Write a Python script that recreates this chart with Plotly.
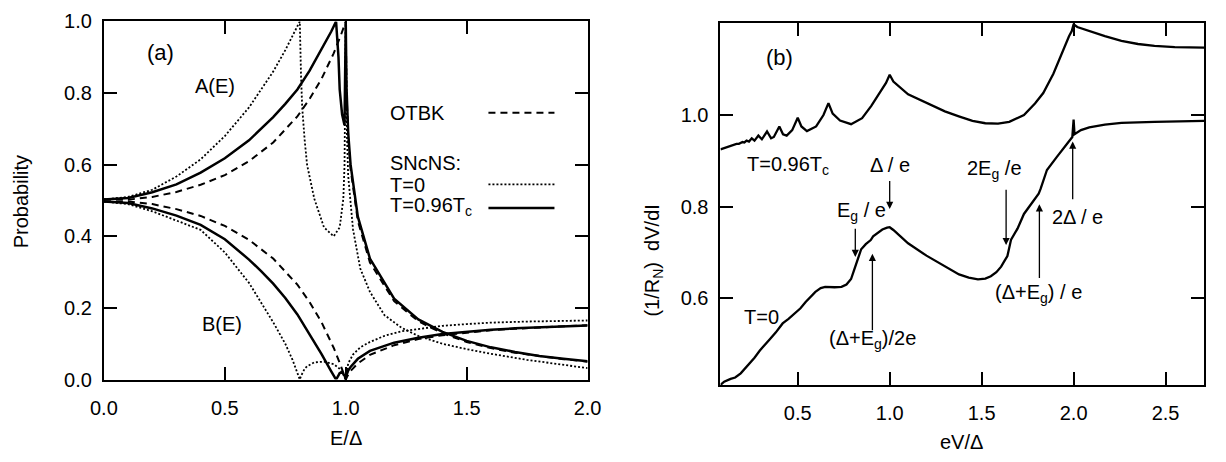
import plotly.graph_objects as go

# ---------------- Panel (a) data ----------------
E_otbk = [0, 0.1, 0.2, 0.3, 0.4, 0.5, 0.6, 0.7, 0.8, 0.85, 0.9, 0.95, 0.98, 1.0,
          1.003, 1.01, 1.02, 1.05, 1.1, 1.2, 1.3, 1.4, 1.5, 1.6, 1.7, 1.8, 1.9, 2.0]
A_otbk = [0.503, 0.5025, 0.510, 0.524, 0.544, 0.571, 0.610, 0.662, 0.735, 0.783, 0.840, 0.911, 0.962, 1.0,
          0.808, 0.682, 0.588, 0.443, 0.327, 0.219, 0.163, 0.129, 0.105, 0.088, 0.075, 0.065, 0.057, 0.050]
B_otbk = [0.497, 0.4975, 0.490, 0.476, 0.457, 0.429, 0.390, 0.338, 0.265, 0.217, 0.160, 0.089, 0.038, 0.0,
          0.005, 0.014, 0.024, 0.045, 0.069, 0.096, 0.113, 0.124, 0.132, 0.138, 0.142, 0.146, 0.149, 0.152]

E_hot = [0, 0.1, 0.2, 0.3, 0.4, 0.5, 0.6, 0.65, 0.7, 0.75, 0.8, 0.85, 0.9, 0.94, 0.96, 0.97, 0.975, 0.985,
         0.995, 1.0, 1.003, 1.01, 1.02, 1.05, 1.1, 1.2, 1.3, 1.4, 1.5, 1.6, 1.7, 1.8, 1.9, 2.0]
A_hot = [0.503, 0.507, 0.523, 0.545, 0.578, 0.618, 0.668, 0.700, 0.733, 0.770, 0.810, 0.862, 0.922, 0.972,
         1.0, 0.90, 0.81, 0.74, 0.71, 1.0, 0.82, 0.69, 0.60, 0.455, 0.338, 0.226, 0.168, 0.133, 0.108,
         0.090, 0.077, 0.066, 0.058, 0.051]
B_hot = [0.497, 0.493, 0.478, 0.458, 0.432, 0.392, 0.335, 0.303, 0.268, 0.228, 0.182, 0.128, 0.071, 0.023,
         0.0, 0.012, 0.018, 0.020, 0.012, 0.0, 0.012, 0.025, 0.035, 0.058, 0.080, 0.103, 0.117, 0.127,
         0.134, 0.139, 0.143, 0.146, 0.149, 0.151]

E_cold = [0, 0.1, 0.2, 0.3, 0.4, 0.5, 0.6, 0.7, 0.75, 0.78, 0.81, 0.815, 0.82, 0.83, 0.84, 0.87, 0.91,
          0.95, 0.975, 0.99, 0.995, 1.0, 1.005, 1.01, 1.03, 1.06, 1.1, 1.16, 1.23, 1.3, 1.4, 1.5, 1.6,
          1.75, 1.9, 2.0]
A_cold = [0.503, 0.51, 0.53, 0.567, 0.615, 0.68, 0.76, 0.86, 0.92, 0.96, 1.0, 0.85, 0.76, 0.67, 0.60,
          0.505, 0.425, 0.40, 0.425, 0.505, 0.60, 1.0, 0.68, 0.57, 0.42, 0.31, 0.245, 0.18, 0.145, 0.122,
          0.100, 0.085, 0.072, 0.055, 0.040, 0.032]
B_cold = [0.497, 0.49, 0.47, 0.444, 0.418, 0.355, 0.27, 0.16, 0.10, 0.055, 0.0, 0.01, 0.018, 0.03, 0.037,
          0.048, 0.05, 0.043, 0.03, 0.015, 0.008, 0.0, 0.03, 0.045, 0.07, 0.09, 0.105, 0.122, 0.135, 0.142,
          0.150, 0.155, 0.159, 0.162, 0.164, 0.165]

# ---------------- Panel (b) data ----------------
V_hot = [0.08, 0.11, 0.14, 0.167, 0.18, 0.2, 0.21, 0.222, 0.235, 0.25, 0.265, 0.286, 0.305,
         0.333, 0.355, 0.37, 0.4, 0.42, 0.44, 0.47, 0.5, 0.52, 0.55, 0.6, 0.64, 0.667, 0.69, 0.73, 0.79,
         0.85, 0.9, 0.95, 0.98, 1.0, 1.02, 1.1, 1.2, 1.3, 1.376, 1.45, 1.52, 1.589, 1.65, 1.73, 1.79,
         1.835, 1.89, 1.94, 1.975, 1.99, 2.0, 2.02, 2.085, 2.17, 2.26, 2.35, 2.44, 2.55, 2.71]
G_hot = [0.925, 0.929, 0.933, 0.937, 0.937, 0.941, 0.940, 0.944, 0.942, 0.949, 0.944, 0.955,
         0.947, 0.964, 0.949, 0.952, 0.975, 0.958, 0.955, 0.967, 0.994, 0.975, 0.965, 0.975, 1.0, 1.026,
         1.003, 0.988, 0.980, 0.993, 1.02, 1.05, 1.07, 1.088, 1.073, 1.045, 1.027, 1.008, 0.997, 0.987,
         0.982, 0.981, 0.985, 1.0, 1.025, 1.048, 1.09, 1.139, 1.172, 1.183, 1.198, 1.192, 1.183, 1.172,
         1.162, 1.155, 1.151, 1.148, 1.147]

V_cold = [0.08, 0.1, 0.135, 0.16, 0.19, 0.215, 0.24, 0.265, 0.294, 0.32, 0.347, 0.38, 0.418, 0.45, 0.489,
          0.515, 0.543, 0.57, 0.596, 0.625, 0.649, 0.7, 0.738, 0.765, 0.79, 0.805, 0.818, 0.845, 0.87,
          0.897, 0.91, 0.932, 0.96, 0.986, 1.0, 1.02, 1.1, 1.2, 1.3, 1.377, 1.43, 1.48, 1.52, 1.55, 1.58,
          1.606, 1.625, 1.64, 1.66, 1.695, 1.73, 1.77, 1.81, 1.82, 1.855, 1.908, 1.95, 1.993, 2.0, 2.005,
          2.04, 2.085, 2.17, 2.26, 2.44, 2.71]
G_cold = [0.411, 0.418, 0.424, 0.427, 0.436, 0.447, 0.46, 0.47, 0.486, 0.497, 0.51, 0.525, 0.545, 0.555,
          0.569, 0.578, 0.592, 0.604, 0.614, 0.622, 0.625, 0.624, 0.625, 0.63, 0.642, 0.66, 0.675, 0.707,
          0.718, 0.727, 0.735, 0.742, 0.75, 0.754, 0.755, 0.749, 0.72, 0.693, 0.669, 0.652, 0.645, 0.641,
          0.643, 0.648, 0.657, 0.669, 0.682, 0.692, 0.728, 0.752, 0.784, 0.806, 0.828, 0.838, 0.88, 0.908,
          0.93, 0.952, 0.99, 0.958, 0.967, 0.973, 0.979, 0.983, 0.985, 0.987]

# arrows in panel (b): x, tail y, tip y
arrow_x = [1.0, 0.813, 0.906, 1.633, 1.814, 1.995]
arrow_tail = [0.859, 0.755, 0.527, 0.84, 0.641, 0.813]
arrow_tip = [0.795, 0.69, 0.697, 0.716, 0.805, 0.942]

W, H = 1226, 462
FONT = "Liberation Sans, Arial, Helvetica, sans-serif"
BLK = "black"
FS = 20

def px(x):
    return x / W

def py(y):
    return 1 - y / H

fig = go.Figure()

solid = dict(color=BLK, width=2.5)
dashed = dict(color=BLK, width=2, dash="7px,5px")
dotted = dict(color=BLK, width=1.8, dash="2px,2px")

for xs, ys, ln in [(E_otbk, A_otbk, dashed), (E_otbk, B_otbk, dashed),
                   (E_cold, A_cold, dotted), (E_cold, B_cold, dotted),
                   (E_hot, A_hot, solid), (E_hot, B_hot, solid)]:
    fig.add_trace(go.Scatter(x=xs, y=ys, mode="lines", line=ln, showlegend=False,
                             xaxis="x", yaxis="y", hoverinfo="skip"))

for xs, ys in [(V_hot, G_hot), (V_cold, G_cold)]:
    fig.add_trace(go.Scatter(x=xs, y=ys, mode="lines", line=dict(color=BLK, width=2.3),
                             showlegend=False, xaxis="x2", yaxis="y2", hoverinfo="skip"))

axis_common = dict(showline=True, linewidth=2, linecolor=BLK, mirror="allticks",
                   ticks="inside", ticklen=13, tickwidth=2, tickcolor=BLK,
                   showgrid=False, zeroline=False,
                   tickfont=dict(family=FONT, size=FS, color=BLK))

fig.update_layout(
    width=W, height=H, autosize=False,
    margin=dict(l=0, r=0, t=0, b=0),
    paper_bgcolor="white", plot_bgcolor="white",
    font=dict(family=FONT, size=FS, color=BLK),
    xaxis=dict(domain=[px(92), px(587)], range=[0, 2.0], tickvals=[0, 0.5, 1.0, 1.5, 2.0],
               tickformat=".1f", anchor="y", ticklabelstandoff=9, **axis_common),
    yaxis=dict(domain=[py(387), py(11)], range=[0, 1.0], tickvals=[0, 0.2, 0.4, 0.6, 0.8, 1.0],
               tickformat=".1f", anchor="x", ticklabelstandoff=6, **axis_common),
    xaxis2=dict(domain=[px(723), px(1218)], range=[0.08, 2.71], tickvals=[0.5, 1.0, 1.5, 2.0, 2.5],
                tickformat=".1f", anchor="y2", ticklabelstandoff=9, **axis_common),
    yaxis2=dict(domain=[py(393), py(13)], range=[0.41, 1.2], tickvals=[0.6, 0.8, 1.0],
                tickformat=".1f", anchor="x2", ticklabelstandoff=6, **axis_common),
)

ann = []

def txt(x, y, s, xref="x", yref="y", size=FS, xanchor="center", angle=0):
    ann.append(dict(x=x, y=y, xref=xref, yref=yref, text=s, showarrow=False,
                    xanchor=xanchor, yanchor="middle", textangle=angle,
                    font=dict(family=FONT, size=size, color=BLK)))

# panel (a) texts
txt(0.234, 0.912, "(a)", size=22)
txt(0.46, 0.82, "A(E)")
txt(0.49, 0.155, "B(E)")
txt(1.176, 0.745, "OTBK", xanchor="left")
txt(1.176, 0.606, "SNcNS:", xanchor="left")
txt(1.176, 0.543, "T=0", xanchor="left")
txt(1.176, 0.484, "T=0.96T<sub>c</sub>", xanchor="left")

# legend samples
for y0, ln in [(0.745, dashed), (0.545, dotted), (0.479, solid)]:
    fig.add_shape(type="line", xref="x", yref="y", x0=1.59, x1=1.863, y0=y0, y1=y0, line=ln)

# panel (b) texts
txt(0.40, 1.125, "(b)", xref="x2", yref="y2", size=22)
txt(0.213, 0.89, "T=0.96T<sub>c</sub>", xref="x2", yref="y2", xanchor="left")
txt(0.303, 0.56, "T=0", xref="x2", yref="y2")
txt(1.0, 0.89, "Δ / e", xref="x2", yref="y2")
txt(0.846, 0.789, "E<sub>g</sub> / e", xref="x2", yref="y2")
txt(0.904, 0.51, "(Δ+E<sub>g</sub>)/2e", xref="x2", yref="y2")
txt(1.569, 0.88, "2E<sub>g</sub> /e", xref="x2", yref="y2")
txt(1.809, 0.61, "(Δ+E<sub>g</sub>) / e", xref="x2", yref="y2")
txt(2.02, 0.778, "2Δ / e", xref="x2", yref="y2")

for xa, yt, yh in zip(arrow_x, arrow_tail, arrow_tip):
    ann.append(dict(x=xa, y=yh, xref="x2", yref="y2", ax=xa, ay=yt, axref="x2", ayref="y2",
                    text="", showarrow=True, arrowhead=2, arrowsize=1.1, arrowwidth=1.3,
                    arrowcolor=BLK, standoff=0, startstandoff=0))

# axis titles
txt(px(8), py(200), "Probability", xref="paper", yref="paper", size=FS, angle=-90)
txt(px(340), py(448), "E/Δ", xref="paper", yref="paper", size=FS)
txt(px(654), py(262), "(1/R<sub>N</sub>)  dV/dI", xref="paper", yref="paper", size=FS, angle=-90)
txt(px(970), py(453), "eV/Δ", xref="paper", yref="paper", size=FS)

fig.update_layout(annotations=ann)
fig.write_html("out.html")
